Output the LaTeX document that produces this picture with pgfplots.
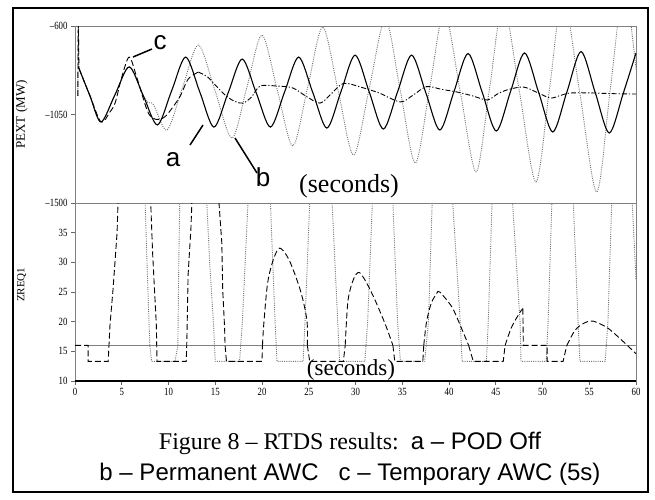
\documentclass[border=0pt]{standalone}
\usepackage{pgfplots}
\pgfplotsset{compat=1.18}
\usepackage{fontspec}
\setmainfont{Liberation Serif}
\newfontfamily\arial{Liberation Sans}
\newfontfamily\tickfont[FakeStretch=0.8]{Liberation Serif}
\begin{document}
\begin{tikzpicture}[x=1pt,y=1pt]
\useasboundingbox (0,0) rectangle (655,-499);
\pgfplotsset{
  mystyle/.style={scale only axis, width=561pt, xmin=0, xmax=60,
    axis line style={black!50, line width=1pt},
    tick style={black!60, line width=0.8pt},
    tick align=outside, major tick length=4pt,
    ytick pos=left, xtick pos=bottom,
    ticklabel style={font=\tickfont\fontsize{11}{11}\selectfont},
    /pgf/number format/assume math mode=true,
    enlargelimits=false},
  aline/.style={black, line width=1.1pt, smooth},
  bline/.style={black!55, line width=0.9pt, dash pattern=on 1pt off 1.2pt},
  cdash/.style={black, line width=0.9pt, dash pattern=on 6pt off 3pt},
  cdashdot/.style={black, line width=0.9pt, dash pattern=on 5pt off 2pt on 1.2pt off 2pt},
}
% ---------------- top panel ----------------
\begin{axis}[mystyle, name=top, at={(75pt,-26pt)}, anchor=north west, height=177pt,
  ymin=-1500, ymax=-600, ytick={-1500,-1050,-600},
  yticklabels={\textendash1500,\textendash1050,\textendash600},
  xtick=\empty,
  ylabel={PEXT (MW)},
  ylabel style={at={(axis description cs:-0.095,0.5)}, anchor=center, font=\fontsize{13}{13}\selectfont}]
% b: permanent AWC (dotted)
\addplot[bline] coordinates {(0.3,-955) (0.36,-600) (0.42,-815)};
\addplot[bline, smooth] coordinates {
(0.42,-815) (1.6,-955) (2.78,-1088) (4.29,-948) (5.8,-808) (7.2,-945) (7.8,-990) (8.4,-1000)
(9.84,-1129) (11.5,-913) (13.2,-697) (15.0,-933) (16.8,-1170) (18.4,-908) (20.0,-646)
(21.65,-928) (23.3,-1210) (24.9,-908) (26.5,-605) (28.15,-930) (29.8,-1256) (31.5,-910)
(33.2,-565) (34.8,-931) (36.4,-1297) (37.95,-911) (39.5,-525) (41.2,-933) (42.9,-1342)
(44.35,-913) (45.8,-485) (47.55,-939) (49.3,-1393) (50.75,-919) (52.2,-445) (54.0,-944)
(55.8,-1444) (57.25,-922) (58.7,-400) (60,-820)};
% c: temporary AWC
\addplot[cdash] coordinates {(0.3,-955) (0.35,-560) (0.42,-815)};
\addplot[cdash, smooth] coordinates {
(0.42,-815) (1.6,-955) (2.78,-1088) (3.7,-1040) (4.3,-990) (5.0,-860) (5.8,-758)
(6.6,-860) (7.7,-1027) (8.3,-1068) (9.0,-1075) (9.8,-1053) (11.2,-961) (12.1,-870) (13.2,-834)};
\addplot[cdashdot, smooth] coordinates {
(13.2,-834) (14.2,-860) (15.2,-910) (16.3,-961) (17.2,-985) (18.0,-992) (18.9,-960)
(19.8,-905) (21.5,-905) (23.3,-915) (24.8,-960) (26.2,-992) (27.3,-950) (28.7,-892)
(30.5,-910) (32.5,-940) (34.8,-986) (36.2,-950) (37.6,-908) (39.2,-922) (40.9,-936)
(42.5,-955) (44.1,-976) (45.2,-945) (46.2,-925) (47.9,-910) (49.3,-935) (50.8,-966)
(51.8,-955) (52.9,-941) (55.0,-940) (57.5,-944) (60.0,-946)};
% a: POD off (solid)
\addplot[aline] coordinates {
(0.42,-815) (1.6,-955) (2.78,-1088) (4.29,-948) (5.80,-808) (7.31,-955) (8.82,-1103)
(10.33,-930) (11.84,-758) (13.35,-936) (14.86,-1114) (16.37,-941) (17.88,-768)
(19.39,-941) (20.90,-1114) (22.41,-936) (23.92,-758) (25.43,-938) (26.94,-1119)
(28.45,-933) (29.96,-748) (31.47,-936) (32.98,-1124) (34.49,-936) (36.00,-748)
(37.51,-938) (39.02,-1129) (40.53,-934) (42.04,-740) (43.55,-937) (45.06,-1134)
(46.57,-935) (48.08,-737) (49.59,-938) (51.10,-1139) (52.61,-935) (54.12,-730)
(55.63,-937) (57.14,-1144) (58.65,-940) (60.0,-737)};
\end{axis}
% ---------------- bottom panel ----------------
\begin{axis}[mystyle, name=bot, at={(75pt,-203pt)}, anchor=north west, height=178pt,
  ymin=10, ymax=40, ytick={10,15,...,35}, xtick={0,5,...,60},
  ylabel={ZREQ1},
  ylabel style={at={(axis description cs:-0.095,0.54)}, anchor=center, font=\fontsize{11}{11}\selectfont}]
% a: constant
\addplot[black!50, line width=1.4pt] coordinates {(1.0,16) (48.1,16)};
\addplot[black!50, line width=1.4pt] coordinates {(50.5,16) (60,16)};
% b (dotted)
\addplot[bline] coordinates {
(0,55) (7.4,55) (7.5,40) (7.7,30) (8.0,16) (8.2,13.3) (10.7,13.3) (11.0,16) (11.1,30) (11.2,40) (11.3,55)
(14.0,55) (14.1,40) (14.4,30) (14.8,20) (15.0,13.3) (17.6,13.3) (17.9,20) (18.2,30) (18.5,40) (18.6,55)
(20.8,55) (20.9,40) (21.15,30) (21.4,20) (21.6,13.3) (24.4,13.3) (24.6,20) (24.85,30) (25.1,40) (25.2,55)
(27.4,55) (27.5,40) (27.8,30) (28.1,20) (28.3,13.3) (31.0,13.3) (31.3,20) (31.55,30) (31.8,40) (31.9,55)
(33.9,55) (34.0,40) (34.25,30) (34.5,20) (34.8,13.3) (37.4,13.3) (37.8,20) (38.0,30) (38.2,40) (38.3,55)
(40.3,55) (40.4,40) (40.8,30) (41.2,20) (41.4,13.3) (44.0,13.3) (44.2,20) (44.4,30) (44.6,40) (44.7,55)
(46.7,55) (46.8,40) (47.2,30) (47.6,20) (47.7,13.3) (50.4,13.3) (50.6,20) (50.8,30) (51.0,40) (51.1,55)
(53.2,55) (53.3,40) (53.55,30) (53.8,20) (54.0,13.3) (56.7,13.3) (57.0,20) (57.2,30) (57.4,40) (57.5,55)
(59.5,55) (59.6,40) (60,27)};
% c (dashed)
\addplot[cdash] coordinates {
(0,16) (1.4,16) (1.4,13.3) (3.55,13.3) (3.74,19.4) (4.06,25.3) (4.5,35) (4.6,40) (4.7,50)
(7.9,50) (8.1,40) (8.3,31.6) (8.7,19.4) (8.77,13.3) (11.9,13.3) (11.95,16) (12.0,19.8) (12.1,28)
(12.4,35.8) (12.5,40) (12.6,50) (15.3,50) (15.4,40) (15.7,33.3) (15.8,25.3) (16.0,19) (16.05,16)
(16.2,13.3) (20.0,13.3) (20.05,16)};
\addplot[cdash, smooth] coordinates {
(20.05,16) (20.2,19.8) (20.6,26.5) (21.2,30.4) (21.9,32.4) (22.9,30.4) (24.1,25.3) (24.8,20.3) (24.85,16)};
\addplot[cdash] coordinates {(24.85,16) (25.1,13.3) (28.7,13.3) (28.9,16)};
\addplot[cdash, smooth] coordinates {
(28.9,16) (29.2,23.6) (29.8,27.2) (30.4,28.3) (31.2,26.5) (32.1,23.6) (33.2,19.5) (34.0,16)};
\addplot[cdash] coordinates {(34.0,16) (34.2,13.3) (37.2,13.3) (37.3,16)};
\addplot[cdash, smooth] coordinates {
(37.3,16) (37.6,20) (38.1,23.1) (38.7,24.8) (39.0,25) (40.3,22.5) (41.2,19.4) (42.1,16)};
\addplot[cdash] coordinates {(42.1,16) (42.6,13.3) (45.8,13.3) (46.0,16)};
\addplot[cdash, smooth] coordinates {(46.0,16) (46.7,19.1) (47.6,21.6) (47.9,22.2)};
\addplot[cdash] coordinates {(47.9,22.2) (47.95,16) (50.5,16) (50.5,13.3) (52.2,13.3) (52.6,16)};
\addplot[cdash, smooth] coordinates {
(52.6,16) (53.5,18.6) (54.5,19.8) (55.4,20.1) (57.0,18.9) (58.8,16.4) (60,14.6)};
\end{axis}
\draw[black, line width=1.3pt] (bot.south west) -- (bot.south east);
% titles / annotations
\node[font=\fontsize{26}{26}\selectfont] at (349,-186) {(seconds)};
\node[font=\fontsize{23}{23}\selectfont] at (351,-370) {(seconds)};
\node[font=\arial\fontsize{26}{26}\selectfont] at (160,-43) {c};
\node[font=\arial\fontsize{26}{26}\selectfont] at (173,-160) {a};
\node[font=\arial\fontsize{26}{26}\selectfont] at (263,-177) {b};
\draw[line width=1.5pt] (152,-49) -- (133,-57);
\draw[line width=1.5pt] (190,-145) -- (203,-125);
\draw[line width=1.5pt] (257,-173) -- (235,-138);
% caption
\node[anchor=base, font=\fontsize{24}{24}\selectfont] at (350,-449) {Figure 8 \textendash{} RTDS results:\ \ {\arial a \textendash{} POD Off}};
\node[anchor=base, font=\arial\fontsize{24}{24}\selectfont] at (350,-480) {b \textendash{} Permanent AWC\ \ \ c \textendash{} Temporary AWC (5s)};
% frame
\draw[line width=2.5pt] (13,-8) rectangle (648,-492);
\end{tikzpicture}
\end{document}
